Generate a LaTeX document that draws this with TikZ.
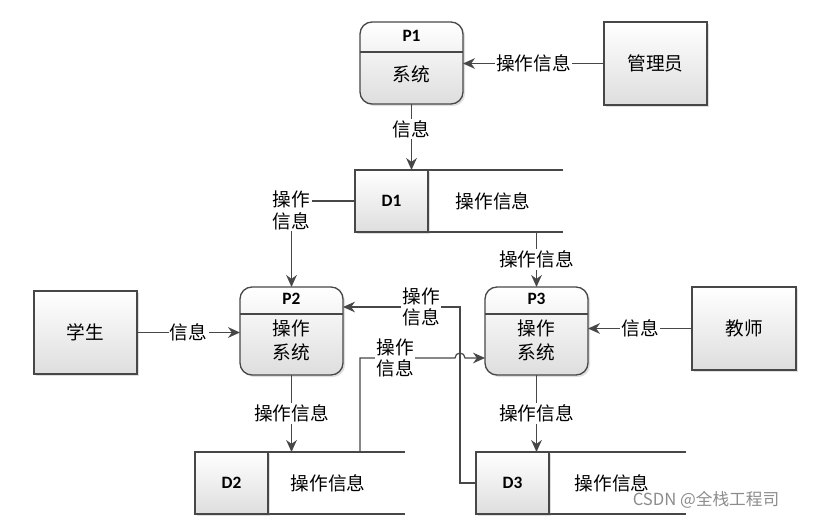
\documentclass[tikz,border=0pt]{standalone}
\usepackage{fontspec}
\setmainfont{Noto Sans CJK SC}
\newfontfamily\idfont{Carlito}
\usetikzlibrary{arrows.meta,calc,shadows}

\begin{document}
\begin{tikzpicture}[x=0.75pt,y=-0.75pt,
  line/.style={draw=black!72, line width=0.9pt},
  flow/.style={line, -{Stealth[length=9pt,width=8pt]}},
  lbl/.style={fill=white, inner sep=1pt, align=center, font=\fontsize{14}{16}\selectfont},
  txt/.style={inner sep=0pt, align=center, font=\fontsize{14}{18}\selectfont},
  idtxt/.style={inner sep=0pt, font=\idfont\bfseries\fontsize{13}{15}\selectfont},
  shade/.style={top color=white, bottom color=black!13, drop shadow={shadow xshift=1.5pt, shadow yshift=-1.5pt, opacity=0.25}},
  proc/.style={shade, draw=black!72, line width=1pt, rounded corners=9pt, minimum width=77.25pt, inner sep=0pt, outer sep=0pt},
  ent/.style={shade, draw=black!72, line width=1pt, minimum width=77.25pt, minimum height=62.25pt, inner sep=0pt, outer sep=0pt, font=\fontsize{14}{16}\selectfont},
  store/.style={minimum height=46.5pt, inner sep=0pt, outer sep=0pt},
  storeid/.style={shade, draw=black!72, line width=1pt, minimum width=54.75pt, minimum height=46.5pt, inner sep=0pt, outer sep=0pt}
]
\useasboundingbox (0,0) rectangle (813,521);

% processes
\node[proc, minimum height=61.5pt] (p1) at (411.5,63) {};
\draw[line] ($(p1.north west)+(0,30)$) -- ($(p1.north east)+(0,30)$);
\node[idtxt] (p1h) at (411.5,36) {P1};
\node[txt] (p1b) at (411.5,74) {系统};

\node[proc, minimum height=66pt] (p2) at (291.5,331) {};
\draw[line] ($(p2.north west)+(0,27)$) -- ($(p2.north east)+(0,27)$);
\node[idtxt] (p2h) at (291.5,299) {P2};
\node[txt] (p2b) at (291.5,340) {操作\\系统};

\node[proc, minimum height=66pt] (p3) at (536.5,331) {};
\draw[line] ($(p3.north west)+(0,27)$) -- ($(p3.north east)+(0,27)$);
\node[idtxt] (p3h) at (536.5,299) {P3};
\node[txt] (p3b) at (536.5,340) {操作\\系统};

% external entities
\node[ent] (adm) at (655.5,63.5) {管理员};
\node[ent] (stu) at (85.5,332.5) {学生};
\node[ent, minimum width=78pt] (tea) at (744,328.5) {教师};

% data stores
\node[store, minimum width=156pt] (d1s) at (459,201) {};
\draw[line] (d1s.north east) -- (d1s.north west) -- (d1s.south west) -- (d1s.south east);
\node[storeid] (d1) at (391.5,201) {};
\node[idtxt] (d1h) at (391.5,201) {D1};
\node[txt] (d1t) at (493,201) {操作信息};

\node[store, minimum width=157.5pt] (d2s) at (300,483) {};
\draw[line] (d2s.north east) -- (d2s.north west) -- (d2s.south west) -- (d2s.south east);
\node[storeid] (d2) at (231.5,483) {};
\node[idtxt] (d2h) at (231.5,483) {D2};
\node[txt] (d2t) at (328,483) {操作信息};

\node[store, minimum width=157.5pt] (d3s) at (581,483) {};
\draw[line] (d3s.north east) -- (d3s.north west) -- (d3s.south west) -- (d3s.south east);
\node[storeid] (d3) at (512.5,483) {};
\node[idtxt] (d3h) at (512.5,483) {D3};
\node[txt] (d3t) at (612,483) {操作信息};

% flows
\coordinate (c1) at (460,307);
\coordinate (c2) at (360,358);
\coordinate (hop) at (460,358);

\draw[flow] (adm.west) -- node[lbl] (f1) {操作信息} (p1.east |- adm.west);
\draw[flow] (p1.south) -- node[lbl, pos=0.38] (f2) {信息} (p1.south |- d1s.north);
\draw[flow] (d1s.west) -| node[lbl, pos=0.5, yshift=-7pt] (f3) {操作\\信息} (p2.north);
\draw[flow] (p3.north |- d1s.south) -- node[lbl] (f4) {操作信息} (p3.north);
\draw[flow] (stu.east) -- node[lbl] (f5) {信息} (p2.west |- stu.east);
\draw[flow] (tea.west) -- node[lbl] (f6) {信息} (p3.east |- tea.west);
\draw[flow] (p2.south) -- node[lbl] (f7) {操作信息} (p2.south |- d2s.north);
\draw[flow] (p3.south) -- node[lbl] (f8) {操作信息} (p3.south |- d3s.north);
\draw[flow] (d3s.west) -| (c1) -- node[lbl, pos=0.33] (f9) {操作\\信息} (p2.east |- c1);
\draw[flow] (c2 |- d2s.north) -- (c2) -- node[lbl, pos=0.37] (f10) {操作\\信息} ([xshift=-3.75pt]hop)
  arc[start angle=180, end angle=0, radius=3.75pt] -- (p3.west |- hop);

% watermark
\node[inner sep=0pt, text=black!45, font=\fontsize{12.5}{14}\selectfont] (wm) at (706,500) {CSDN @全栈工程司};
\end{tikzpicture}
\end{document}
